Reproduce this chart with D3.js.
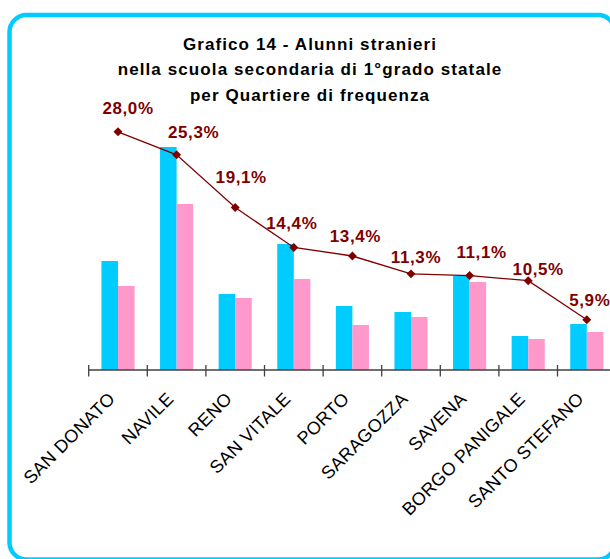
<!DOCTYPE html>
<html>
<head>
<meta charset="utf-8">
<script src="https://cdn.jsdelivr.net/npm/d3@7"></script>
<style>
  body { margin: 0; background: #fff; }
  svg { display: block; font-family: "Liberation Sans", Arial, sans-serif; }
</style>
</head>
<body>
<script>
(function(){

//chart data
var quartieri = ["SAN DONATO", "NAVILE", "RENO", "SAN VITALE", "PORTO", "SARAGOZZA", "SAVENA", "BORGO PANIGALE", "SANTO STEFANO"];
var serieCiano = [109, 223, 76, 126, 64, 58, 94, 34, 46]; //cyan bars
var serieRosa = [84, 166, 72, 91, 45, 53, 88, 31, 38];   //pink bars
var percentuali = [28.0, 25.3, 19.1, 14.4, 13.4, 11.3, 11.1, 10.5, 5.9]; //line values (%)
var titleLines = ["Grafico 14 - Alunni stranieri", "nella scuola secondaria di 1°grado statale", "per Quartiere di frequenza"];

//manual nudges for the percentage labels (as placed in the original)
var labelNudge = [[10, -24], [17, -23], [6, -31], [-2, -25], [3, -20], [5, -17], [12, -24], [10, -12], [3, -20]];

window.onload = setChart();

function setChart(){

    var width = 610,
        height = 559;

    var svg = d3.select("body")
        .append("svg")
        .attr("width", width)
        .attr("height", height);

    //rounded frame (right and bottom edges run past the picture)
    svg.append("rect")
        .attr("x", 9.5)
        .attr("y", 15)
        .attr("width", 605.5)
        .attr("height", 544.5)
        .attr("rx", 17)
        .attr("fill", "#fff")
        .attr("stroke", "#00ccff")
        .attr("stroke-width", 4.5);

    //title
    svg.append("g")
        .selectAll("text")
        .data(titleLines)
        .enter()
        .append("text")
        .attr("x", 310)
        .attr("y", function(d, i){ return 49.5 + i * 25.5; })
        .attr("text-anchor", "middle")
        .style("font-size", "17px")
        .style("font-weight", "bold")
        .style("letter-spacing", "1.1px")
        .attr("fill", "#000")
        .text(function(d){ return d; });

    //scales
    var plotLeft = 88.7,
        step = 58.6,
        baseY = 370;

    var x = d3.scaleBand()
        .domain(quartieri)
        .range([plotLeft, plotLeft + step * quartieri.length])
        .paddingInner(0.435)
        .paddingOuter(0.2175);

    var y = d3.scaleLinear()
        .domain([0, 255])
        .range([baseY, baseY - 255]);

    var y2 = d3.scaleLinear()
        .domain([0, 30])
        .range([baseY, baseY - 30 * 8.507]);

    var half = x.bandwidth() / 2;

    //bars
    var bars = svg.append("g");
    bars.selectAll(".ciano")
        .data(serieCiano)
        .enter()
        .append("rect")
        .attr("class", "ciano")
        .attr("x", function(d, i){ return x(quartieri[i]); })
        .attr("y", function(d){ return y(d); })
        .attr("width", half)
        .attr("height", function(d){ return baseY - y(d); })
        .attr("fill", "#00ccff");

    bars.selectAll(".rosa")
        .data(serieRosa)
        .enter()
        .append("rect")
        .attr("class", "rosa")
        .attr("x", function(d, i){ return x(quartieri[i]) + half; })
        .attr("y", function(d){ return y(d); })
        .attr("width", half)
        .attr("height", function(d){ return baseY - y(d); })
        .attr("fill", "#ff99cc");

    //category axis
    var axisG = svg.append("g").attr("class", "asse");
    axisG.append("line")
        .attr("x1", plotLeft)
        .attr("x2", plotLeft + step * quartieri.length)
        .attr("y1", baseY)
        .attr("y2", baseY)
        .attr("stroke", "#404040")
        .attr("stroke-width", 1.5);

    var tickPos = d3.range(quartieri.length + 1).map(function(i){ return plotLeft + step * i; });
    axisG.selectAll(".tick")
        .data(tickPos)
        .enter()
        .append("line")
        .attr("x1", function(d){ return d; })
        .attr("x2", function(d){ return d; })
        .attr("y1", baseY - 5)
        .attr("y2", baseY + 6.5)
        .attr("stroke", "#404040")
        .attr("stroke-width", 1.3);

    axisG.selectAll(".cat")
        .data(quartieri)
        .enter()
        .append("text")
        .attr("class", "cat")
        .attr("text-anchor", "end")
        .attr("transform", function(d){
            var cx = x(d) + x.bandwidth() / 2;
            return "translate(" + (cx - 2) + "," + 400 + ") rotate(-45)";
        })
        .style("font-size", "18px")
        .style("letter-spacing", "0.3px")
        .attr("fill", "#000")
        .text(function(d){ return d; });

    //percentage line
    var linePoints = percentuali.map(function(v, i){
        return [x(quartieri[i]) + x.bandwidth() / 2, y2(v)];
    });

    svg.append("path")
        .datum(linePoints)
        .attr("d", d3.line())
        .attr("fill", "none")
        .attr("stroke", "#800000")
        .attr("stroke-width", 1.3);

    svg.append("g")
        .selectAll("path")
        .data(linePoints)
        .enter()
        .append("path")
        .attr("d", d3.symbol().type(d3.symbolSquare).size(40))
        .attr("transform", function(d){ return "translate(" + d[0] + "," + d[1] + ") rotate(45)"; })
        .attr("fill", "#800000");

    //percentage labels
    var fmt = function(v){ return v.toFixed(1).replace(".", ",") + "%"; };
    svg.append("g")
        .selectAll("text")
        .data(percentuali)
        .enter()
        .append("text")
        .attr("x", function(d, i){ return linePoints[i][0] + labelNudge[i][0]; })
        .attr("y", function(d, i){ return linePoints[i][1] + labelNudge[i][1] + 6.3; })
        .attr("text-anchor", "middle")
        .style("font-size", "17px")
        .style("font-weight", "bold")
        .style("letter-spacing", "0.6px")
        .attr("fill", "#800000")
        .text(fmt);
};

})();
</script>
</body>
</html>
